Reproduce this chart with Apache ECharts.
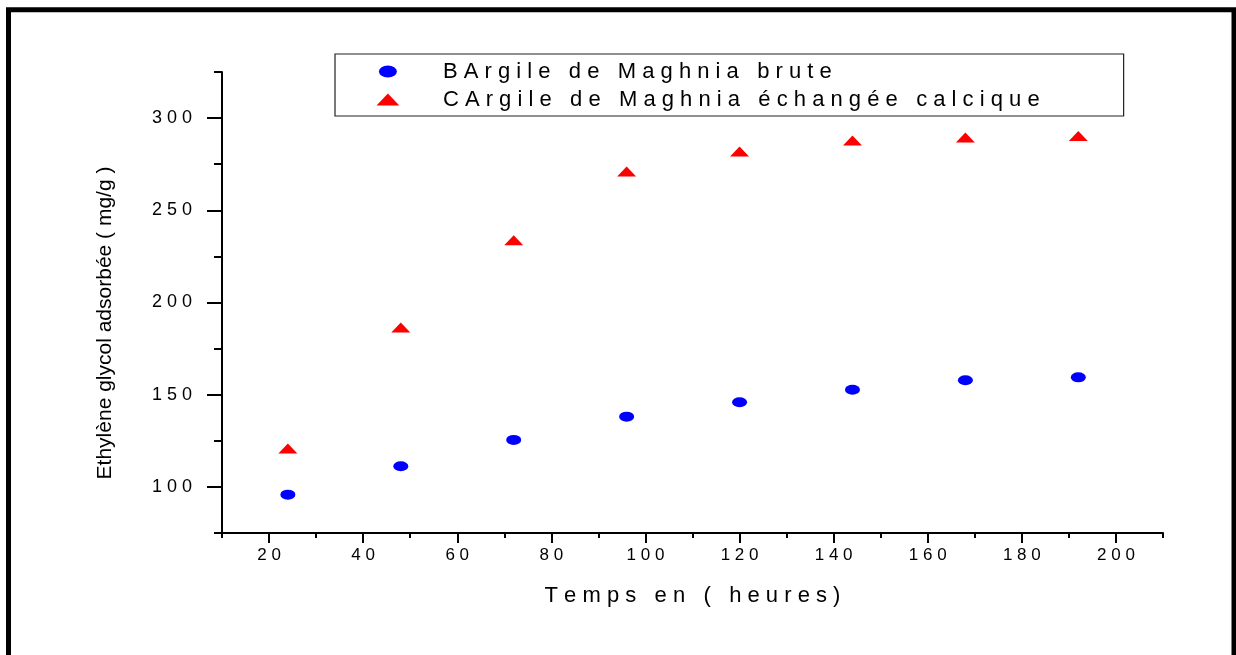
<!DOCTYPE html>
<html lang="fr">
<head>
    <meta charset="UTF-8">
    <script type="text/javascript" src="https://cdn.jsdelivr.net/npm/echarts@6/dist/echarts.min.js"></script>
    <title>Ethylène glycol adsorbée</title>
    <style type="text/css">
        html, body { margin: 0; padding: 0; background: #fff; }
        #chart { width: 1236px; height: 655px; }
    </style>
</head>
<body>
<div id="chart"></div>
<script type="text/javascript">
    // temps (heures)
    const timeHours = [24, 48, 72, 96, 120, 144, 168, 192];
    // B : argile brute
    const bruteValues = [95.8, 111.2, 125.5, 138.1, 145.9, 152.7, 157.8, 159.4];
    // C : argile échangée calcique
    const calciqueValues = [120.8, 186.4, 233.8, 271.0, 281.9, 287.8, 289.5, 290.3];

    const seriesNames = ['BArgile de Maghnia brute', 'CArgile de Maghnia échangée calcique'];
    const xTickLabels = [20, 40, 60, 80, 100, 120, 140, 160, 180, 200];
    const xMinorTicks = [10, 30, 50, 70, 90, 110, 130, 150, 170, 190, 210];
    const yTickLabels = [100, 150, 200, 250, 300];
    const yMinorTicks = [75, 125, 175, 225, 275, 325];

    const font = 'Arial, "Liberation Sans", sans-serif';
    const ellipse = 'path://M0,5A7.5,5,0,1,1,15,5A7.5,5,0,1,1,0,5Z';
    const triangle = 'path://M9.5,0L19,10L0,10Z';

    // letters spaced out like the original figure
    function spaced(s) {
        return s.split(' ').map(w => w.split('').join(' ')).join('   ');
    }

    let chart = echarts.init(document.getElementById('chart'));

    let option = {
        animation: false,
        backgroundColor: '#fff',
        grid: { left: 222, right: 73, top: 72, bottom: 122 },
        graphic: [
            {
                type: 'rect',
                shape: { x: 8.5, y: 9.8, width: 1225.5, height: 700 },
                style: { fill: 'none', stroke: '#000', lineWidth: 5 }
            },
            {
                type: 'text',
                x: 105,
                y: 323,
                rotation: Math.PI / 2,
                style: {
                    text: 'Ethylène glycol adsorbée ( mg/g )',
                    font: '21px ' + font,
                    fill: '#000',
                    align: 'center',
                    verticalAlign: 'middle'
                }
            }
        ],
        legend: {
            orient: 'vertical',
            left: 335,
            top: 54,
            padding: [6.5, 84, 5.5, 41.5],
            itemWidth: 23,
            itemHeight: 12,
            itemGap: 6,
            symbolKeepAspect: true,
            borderColor: '#222',
            borderWidth: 1.2,
            data: [
                { name: seriesNames[0], icon: ellipse },
                { name: seriesNames[1], icon: triangle }
            ],
            formatter: name => '{t|' + spaced(name) + '}',
            textStyle: {
                fontFamily: font,
                fontSize: 22,
                color: '#000',
                rich: {
                    t: { fontFamily: font, fontSize: 22, color: '#000', padding: [0, 0, 0, 38.5] }
                }
            }
        },
        xAxis: [
            {
                type: 'value',
                min: 10,
                max: 210,
                position: 'bottom',
                name: spaced('Temps en ( heures)'),
                nameLocation: 'middle',
                nameGap: 52,
                nameTextStyle: { fontFamily: font, fontSize: 22, color: '#000' },
                axisLine: { lineStyle: { color: '#000', width: 2 } },
                axisTick: { customValues: xTickLabels, length: 10, lineStyle: { color: '#000', width: 2 } },
                axisLabel: {
                    customValues: xTickLabels,
                    margin: 14,
                    fontFamily: font,
                    fontSize: 17,
                    color: '#000',
                    formatter: v => spaced(String(v))
                },
                splitLine: { show: false }
            },
            {
                type: 'value',
                min: 10,
                max: 210,
                position: 'bottom',
                axisLine: { show: false },
                axisTick: { customValues: xMinorTicks, length: 5, lineStyle: { color: '#000', width: 2 } },
                axisLabel: { show: false },
                splitLine: { show: false }
            }
        ],
        yAxis: [
            {
                type: 'value',
                min: 75,
                max: 325,
                position: 'left',
                axisLine: { show: true, lineStyle: { color: '#000', width: 2 } },
                axisTick: { show: true, customValues: yTickLabels, length: 15, lineStyle: { color: '#000', width: 2 } },
                axisLabel: {
                    customValues: yTickLabels,
                    margin: 30,
                    fontFamily: font,
                    fontSize: 18,
                    color: '#000',
                    formatter: v => spaced(String(v))
                },
                splitLine: { show: false }
            },
            {
                type: 'value',
                min: 75,
                max: 325,
                position: 'left',
                axisLine: { show: false },
                axisTick: { show: true, customValues: yMinorTicks, length: 8, lineStyle: { color: '#000', width: 2 } },
                axisLabel: { show: false },
                splitLine: { show: false }
            }
        ],
        series: [
            {
                name: seriesNames[0],
                type: 'scatter',
                symbol: ellipse,
                symbolSize: [15, 10],
                itemStyle: { color: '#0000ff', opacity: 1 },
                data: timeHours.map((t, i) => [t, bruteValues[i]])
            },
            {
                name: seriesNames[1],
                type: 'scatter',
                symbol: triangle,
                symbolSize: [19, 10],
                itemStyle: { color: '#ff0000', opacity: 1 },
                data: timeHours.map((t, i) => [t, calciqueValues[i]])
            }
        ]
    };
    chart.setOption(option);
</script>
</body>
</html>
